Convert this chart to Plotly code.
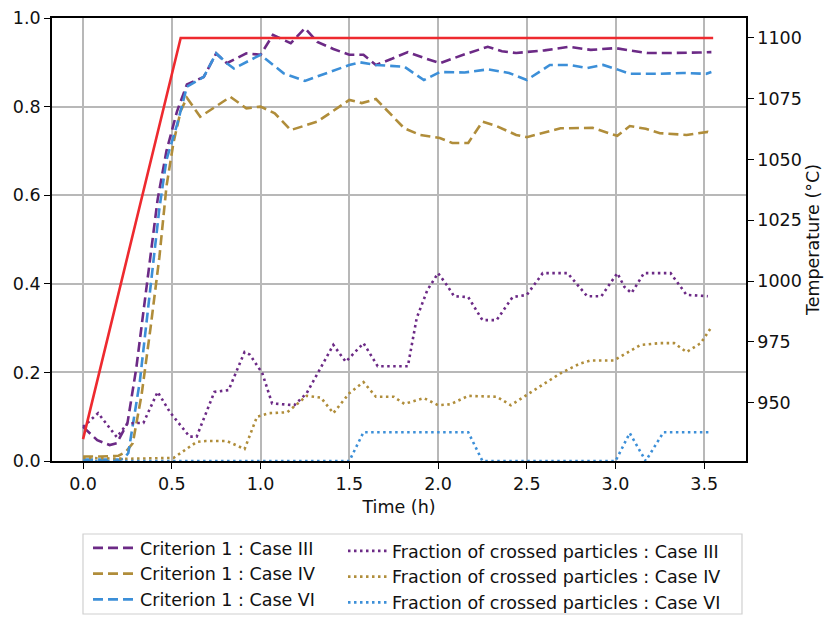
import plotly.graph_objects as go

# ---- data -------------------------------------------------------------
# Criterion 1 (dashed curves)
t_crit_III = [0, 0.08, 0.15, 0.19, 0.25, 0.30, 0.36, 0.42, 0.47, 0.53, 0.585, 0.68, 0.75, 0.81,
              0.92, 1.0, 1.07, 1.17, 1.25, 1.32, 1.41, 1.5, 1.58, 1.65, 1.74, 1.83, 1.92, 2.01,
              2.15, 2.28, 2.36, 2.44, 2.6, 2.74, 2.86, 3.0, 3.09, 3.18, 3.29, 3.40, 3.47, 3.54]
crit_III = [0.077, 0.047, 0.036, 0.04, 0.085, 0.21, 0.40, 0.59, 0.70, 0.79, 0.85, 0.867, 0.92, 0.898,
            0.92, 0.917, 0.962, 0.943, 0.977, 0.946, 0.93, 0.917, 0.917, 0.894, 0.908, 0.923, 0.91, 0.898,
            0.918, 0.935, 0.925, 0.921, 0.927, 0.935, 0.928, 0.932, 0.926, 0.921, 0.921, 0.921, 0.922, 0.923]

t_crit_IV = [0, 0.1, 0.2, 0.24, 0.28, 0.33, 0.38, 0.43, 0.47, 0.51, 0.55, 0.585, 0.66, 0.75, 0.83,
             0.92, 1.0, 1.08, 1.17, 1.32, 1.5, 1.57, 1.65, 1.74, 1.81, 1.90, 2.01, 2.08, 2.17, 2.25,
             2.33, 2.44, 2.50, 2.69, 2.87, 3.01, 3.08, 3.17, 3.25, 3.40, 3.52, 3.54]
crit_IV = [0.01, 0.01, 0.012, 0.02, 0.04, 0.15, 0.30, 0.46, 0.62, 0.72, 0.79, 0.82, 0.777, 0.80, 0.822,
           0.796, 0.80, 0.785, 0.747, 0.766, 0.815, 0.808, 0.817, 0.78, 0.751, 0.736, 0.729, 0.718, 0.718, 0.766,
           0.756, 0.736, 0.731, 0.751, 0.752, 0.734, 0.756, 0.75, 0.740, 0.736, 0.743, 0.74]

t_crit_VI = [0, 0.1, 0.2, 0.23, 0.255, 0.32, 0.38, 0.43, 0.47, 0.53, 0.585, 0.68, 0.75, 0.81, 0.85,
             1.0, 1.13, 1.25, 1.5, 1.56, 1.65, 1.81, 1.92, 2.01, 2.15, 2.28, 2.40, 2.50, 2.63, 2.74,
             2.84, 2.93, 3.01, 3.08, 3.25, 3.38, 3.51, 3.54]
crit_VI = [0.003, 0.003, 0.003, 0.005, 0.018, 0.18, 0.40, 0.57, 0.68, 0.76, 0.845, 0.867, 0.92, 0.898, 0.886,
           0.917, 0.875, 0.858, 0.894, 0.90, 0.894, 0.89, 0.86, 0.878, 0.877, 0.884, 0.876, 0.86, 0.894, 0.894,
           0.887, 0.894, 0.884, 0.874, 0.874, 0.876, 0.874, 0.878]

# Fraction of crossed particles (dotted curves)
t_frac_III = [0, 0.085, 0.19, 0.25, 0.34, 0.42, 0.49, 0.60, 0.64, 0.74, 0.82, 0.91, 0.94, 1.01, 1.065,
              1.19, 1.26, 1.41, 1.48, 1.58, 1.66, 1.83, 1.88, 1.94, 2.0, 2.05, 2.09, 2.17, 2.25, 2.33,
              2.42, 2.50, 2.59, 2.73, 2.84, 2.92, 3.01, 3.05, 3.09, 3.16, 3.31, 3.40, 3.52]
frac_III = [0.077, 0.108, 0.054, 0.085, 0.086, 0.156, 0.11, 0.055, 0.055, 0.156, 0.16, 0.246, 0.24, 0.198, 0.13,
            0.126, 0.153, 0.262, 0.224, 0.266, 0.214, 0.214, 0.323, 0.386, 0.424, 0.397, 0.372, 0.37, 0.318, 0.318,
            0.37, 0.375, 0.424, 0.424, 0.372, 0.372, 0.424, 0.393, 0.379, 0.424, 0.424, 0.375, 0.372]

t_frac_IV = [0, 0.25, 0.51, 0.64, 0.69, 0.81, 0.91, 0.98, 1.05, 1.15, 1.21, 1.26, 1.34, 1.41, 1.50,
             1.58, 1.65, 1.75, 1.81, 1.92, 2.0, 2.07, 2.17, 2.33, 2.41, 2.50, 2.69, 2.80, 2.86, 2.99,
             3.14, 3.25, 3.33, 3.40, 3.48, 3.54]
frac_IV = [0.007, 0.005, 0.007, 0.043, 0.045, 0.045, 0.027, 0.1, 0.108, 0.11, 0.13, 0.147, 0.143, 0.108, 0.153,
           0.178, 0.145, 0.145, 0.129, 0.142, 0.126, 0.128, 0.147, 0.145, 0.126, 0.149, 0.198, 0.22, 0.227, 0.227,
           0.262, 0.266, 0.266, 0.246, 0.266, 0.302]

t_frac_VI = [0, 1.5, 1.58, 2.17, 2.25, 3.0, 3.08, 3.17, 3.27, 3.54]
frac_VI = [0, 0, 0.065, 0.065, 0.0, 0.0, 0.063, 0.0, 0.065, 0.065]

# Furnace temperature profile (right axis)
t_temp = [0, 0.55, 3.55]
temp = [935, 1100, 1100]

x_ticks = [0.0, 0.5, 1.0, 1.5, 2.0, 2.5, 3.0, 3.5]
y_ticks = [0.0, 0.2, 0.4, 0.6, 0.8, 1.0]
temp_ticks = [950, 975, 1000, 1025, 1050, 1075, 1100]

# ---- style ------------------------------------------------------------
PURPLE = "#6C2A86"
GOLD = "#B08D3A"
BLUE = "#3C8FD8"
RED = "#EE2A2F"
FONT = "DejaVu Sans"
FS = 17.5
DASH = "10px,5px"
DOT = "2.5px,3.5px"

# plot-area pixel box, used to place the legend frame in paper units
L, R, T, B = 52, 746, 18, 461
W, H = R - L, B - T


def px_x(p):
    return (p - L) / W


def px_y(p):
    return (B - p) / H


fig = go.Figure()

crit = [("Criterion 1 : Case III", t_crit_III, crit_III, PURPLE),
        ("Criterion 1 : Case IV", t_crit_IV, crit_IV, GOLD),
        ("Criterion 1 : Case VI", t_crit_VI, crit_VI, BLUE)]
frac = [("Fraction of crossed particles : Case III", t_frac_III, frac_III, PURPLE),
        ("Fraction of crossed particles : Case IV", t_frac_IV, frac_IV, GOLD),
        ("Fraction of crossed particles : Case VI", t_frac_VI, frac_VI, BLUE)]

for name, t, v, c in crit:
    fig.add_trace(go.Scatter(x=t, y=v, name=name, mode="lines",
                             line=dict(color=c, width=2.6, dash=DASH),
                             legend="legend"))
for name, t, v, c in frac:
    fig.add_trace(go.Scatter(x=t, y=v, name=name, mode="lines",
                             line=dict(color=c, width=2.6, dash=DOT),
                             legend="legend2"))

fig.add_trace(go.Scatter(x=t_temp, y=temp, mode="lines", yaxis="y2",
                         line=dict(color=RED, width=2.6), showlegend=False))

axis_common = dict(showline=True, linecolor="black", linewidth=1.6,
                   ticks="outside", ticklen=6, tickwidth=1.4, tickcolor="black",
                   tickfont=dict(family=FONT, size=FS, color="#111"), zeroline=False)

fig.update_layout(
    width=825, height=621,
    margin=dict(l=L, r=825 - R, t=T, b=621 - B, autoexpand=False),
    paper_bgcolor="white", plot_bgcolor="white",
    font=dict(family=FONT, size=FS, color="#111"),
    xaxis=dict(range=[-0.175, 3.735], tickvals=x_ticks, tickformat=".1f",
               showgrid=True, gridcolor="#b8b8b8", gridwidth=1.5, mirror=True,
               title=dict(text="Time (h)", font=dict(family=FONT, size=FS), standoff=8),
               **axis_common),
    yaxis=dict(range=[0, 1.0], tickvals=y_ticks, tickformat=".1f",
               showgrid=True, gridcolor="#b8b8b8", gridwidth=1.5, mirror=True,
               **axis_common),
    yaxis2=dict(range=[926, 1108.2], tickvals=temp_ticks, overlaying="y", side="right",
                showgrid=False,
                title=dict(text="Temperature (°C)", font=dict(family=FONT, size=FS), standoff=6),
                **axis_common),
    legend=dict(x=px_x(88), y=px_y(530), xanchor="left", yanchor="top",
                bgcolor="rgba(0,0,0,0)", borderwidth=0, tracegroupgap=0, itemwidth=42,
                font=dict(family=FONT, size=FS, color="#111")),
    legend2=dict(x=px_x(343), y=px_y(533), xanchor="left", yanchor="top",
                 bgcolor="rgba(0,0,0,0)", borderwidth=0, tracegroupgap=0, itemwidth=39,
                 font=dict(family=FONT, size=FS, color="#111")),
)

# frame around both legend columns
fig.add_shape(type="rect", xref="paper", yref="paper",
              x0=px_x(83), x1=px_x(742), y0=px_y(614), y1=px_y(534),
              line=dict(color="#d0d0d0", width=1.2), fillcolor="rgba(255,255,255,0.8)",
              layer="below")

fig.write_html("out.html")
